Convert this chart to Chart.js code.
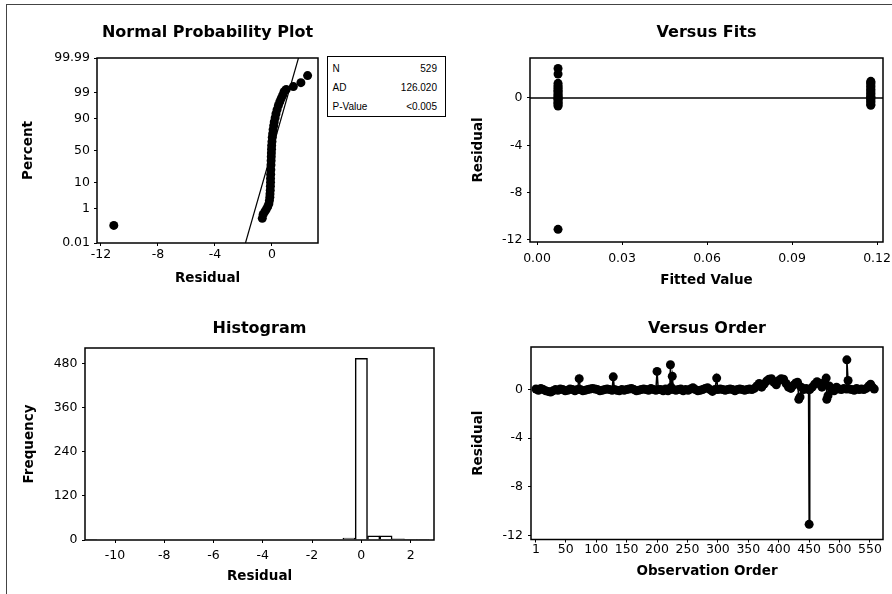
<!DOCTYPE html>
<html>
<head>
<meta charset="utf-8">
<title>Residual Plots</title>
<script src="https://cdn.jsdelivr.net/npm/chart.js@4.4.1/dist/chart.umd.min.js"></script>
<style>
  body { margin: 0; background: #fff; }
  #page { position: relative; width: 892px; height: 594px; overflow: hidden; font-family: "DejaVu Sans", sans-serif; }
  #frame { position: absolute; left: 6px; top: 4px; right: -2px; bottom: -2px; border-top: 1px solid #444; border-left: 1px solid #444; }
  .panel { position: absolute; width: 446px; height: 297px; }
  #stats { position: absolute; left: 327px; top: 56px; width: 119px; box-sizing: border-box; border: 1.5px solid #000;
           padding: 2px 8px 0 4.5px; font: 10px "Liberation Sans", sans-serif; color: #000; background: #fff; }
  #stats div { display: flex; justify-content: space-between; height: 19px; line-height: 19px; }
</style>
</head>
<body>
<div id="page">
  <div id="frame"></div>
  <div class="panel" style="left:0;top:0"><canvas id="prob" width="446" height="297"></canvas></div>
  <div class="panel" style="left:446px;top:0"><canvas id="fits" width="446" height="297"></canvas></div>
  <div class="panel" style="left:0;top:297px"><canvas id="hist" width="446" height="297"></canvas></div>
  <div class="panel" style="left:446px;top:297px"><canvas id="order" width="446" height="297"></canvas></div>
  <div id="stats"></div>
</div>
<script>
// normal probability plot: sorted residuals and their plotting percents
const npResid = [-11.1, -0.68, -0.62, -0.5, -0.4, -0.3, -0.22, -0.18, -0.15, -0.14,
  -0.12, -0.11, -0.1, -0.1, -0.09, -0.08, -0.07, -0.06, -0.05, -0.04,
  -0.03, -0.02, 0, 0.02, 0.05, 0.08, 0.12, 0.16, 0.22, 0.28,
  0.36, 0.45, 0.55, 0.65, 0.75, 0.85, 1.0, 1.5, 2.03, 2.5];
const npPct = [0.13, 0.32, 0.51, 0.7, 0.9, 1.2, 1.6, 2.2, 3, 4,
  5.5, 7.5, 10, 13, 17, 22, 28, 34, 40, 46,
  52, 58, 64, 70, 75, 80, 84, 87.5, 90.5, 93,
  95, 96.5, 97.5, 98.2, 98.7, 99.11, 99.3, 99.49, 99.68, 99.87];
const fitLineResid = [-1.86, 1.86];
const fitLinePct = [0.01, 99.99];
const pctTicks = [0.01, 1, 10, 50, 90, 99, 99.99];
const pctTickLabels = ["0.01", "1", "10", "50", "90", "99", "99.99"];
const statLabels = ["N", "AD", "P-Value"];
const statValues = ["529", "126.020", "<0.005"];

// versus fits
const fitsLow = 0.0074;
const fitsHigh = 0.1178;
const fitsLowResid = [-11.1, -0.68, -0.6, -0.45, -0.38, -0.25, -0.12, -0.05, 0, 0.08,
  0.18, 0.3, 0.42, 0.55, 0.66, 0.8, 0.92, 1.05, 1.24, 2.03, 2.5];
const fitsHighResid = [-0.62, -0.52, -0.4, -0.3, -0.18, -0.08, 0, 0.06, 0.15, 0.27,
  0.38, 0.5, 0.61, 0.73, 0.86, 0.97, 1.1, 1.22, 1.33, 1.41];
const fitsTicks = [0, 0.03, 0.06, 0.09, 0.12];
const fitsTickLabels = ["0.00", "0.03", "0.06", "0.09", "0.12"];
const residTicks = [-12, -8, -4, 0];

// histogram of residuals (bin centres, width 0.5)
const histBins = [-11, -0.5, 0, 0.5, 1, 1.5, 2, 2.5];
const histCounts = [1, 5, 494, 11, 11, 3, 2, 2];
const histXTicks = [-10, -8, -6, -4, -2, 0, 2];
const histYTicks = [0, 120, 240, 360, 480];

// versus order
const orderObs = [1, 5, 9, 13, 17, 21, 25, 29, 33, 37, 41, 45, 49, 53, 57, 61, 65, 69, 72, 74,
  78, 82, 86, 90, 94, 98, 102, 106, 110, 114, 118, 122, 126, 128, 130, 134, 138, 142, 146, 150,
  154, 158, 162, 166, 170, 174, 178, 182, 186, 190, 194, 198, 200, 202, 206, 210, 214, 218, 221, 222,
  223, 225, 227, 231, 235, 239, 243, 247, 251, 255, 259, 263, 267, 271, 275, 279, 283, 287, 291, 295,
  298, 300, 304, 308, 312, 316, 320, 324, 328, 332, 336, 340, 344, 348, 352, 356, 360, 364, 368, 372,
  376, 380, 384, 388, 392, 396, 400, 404, 408, 412, 416, 420, 424, 428, 431, 433, 435, 437, 441, 445,
  449, 450, 451, 455, 459, 463, 467, 471, 475, 478, 479, 481, 483, 487, 491, 495, 499, 503, 507, 511,
  512, 514, 516, 520, 524, 528, 532, 536, 540, 544, 548, 551, 554, 557];
const orderRes = [0.05, -0.05, 0.1, 0, -0.1, -0.15, -0.2, -0.1, 0, -0.05, 0.05, 0, -0.1, -0.05, 0.05, 0, -0.1, 0, 0.9, 0,
  -0.1, -0.05, 0, 0.05, 0.1, 0.05, 0, -0.1, -0.05, 0, 0.05, 0, -0.05, 1.05, 0, -0.05, -0.1, 0, -0.05, 0,
  0.05, 0.1, 0, -0.1, -0.05, 0, 0.05, 0, -0.05, 0.1, 0, -0.05, 1.5, 0, 0, -0.1, 0.05, -0.1, 0, 2.05,
  0.2, 1.1, 0, -0.05, 0, 0.05, -0.1, 0, -0.05, 0.05, 0.15, 0, -0.1, -0.05, 0, 0.1, 0.15, 0, -0.15, 0,
  0.95, 0, 0.05, 0, -0.05, 0, 0.05, 0, -0.1, 0, 0.05, 0, -0.05, 0, 0.05, 0, 0.1, 0.3, 0.5, 0.2,
  0.45, 0.7, 0.85, 0.9, 0.6, 0.4, 0.75, 0.9, 0.85, 0.5, 0.2, 0.1, 0.35, 0.55, 0.6, -0.8, -0.6, 0.2, 0, 0.1,
  0, -11.1, 0, 0.2, 0.45, 0.65, 0.5, 0.2, 0.6, 0.95, -0.8, -0.5, 0.3, 0, -0.1, 0.2, 0.05, 0, 0.1, 0.05,
  2.45, 0.75, 0.05, 0, -0.05, 0.1, 0, 0.05, 0, 0.1, 0.3, 0.45, 0.2, 0.05];
const orderTicks = [1, 50, 100, 150, 200, 250, 300, 350, 400, 450, 500, 550];

// inverse normal CDF (Acklam) for the probability axis
const probit = (p) => {
  const a = [-39.69683028665376, 220.9460984245205, -275.9285104469687, 138.357751867269, -30.66479806614716, 2.506628277459239];
  const b = [-54.47609879822406, 161.5858368580409, -155.6989798598866, 66.80131188771972, -13.28068155288572];
  const c = [-0.007784894002430293, -0.3223964580411365, -2.400758277161838, -2.549732539343734, 4.374664141464968, 2.938163982698783];
  const d = [0.007784695709041462, 0.3224671290700398, 2.445134137142996, 3.754408661907416];
  const tail = (q) => (((((c[0] * q + c[1]) * q + c[2]) * q + c[3]) * q + c[4]) * q + c[5]) /
    ((((d[0] * q + d[1]) * q + d[2]) * q + d[3]) * q + 1);
  if (p < 0.02425) return tail(Math.sqrt(-2 * Math.log(p)));
  if (p > 1 - 0.02425) return -tail(Math.sqrt(-2 * Math.log(1 - p)));
  const q = p - 0.5, r = q * q;
  return (((((a[0] * r + a[1]) * r + a[2]) * r + a[3]) * r + a[4]) * r + a[5]) * q /
    (((((b[0] * r + b[1]) * r + b[2]) * r + b[3]) * r + b[4]) * r + 1);
};

Chart.defaults.font.family = "'DejaVu Sans', sans-serif";
Chart.defaults.color = "#000";

// box round the data area, plus optional reference line at zero
const boxPlugin = {
  id: "box",
  beforeDatasetsDraw(chart, args, opts) {
    if (!opts.zeroLine) return;
    const { ctx, chartArea: a, scales } = chart;
    const y = scales.y.getPixelForValue(0);
    ctx.save();
    ctx.strokeStyle = "#000";
    ctx.lineWidth = 1.5;
    ctx.beginPath();
    ctx.moveTo(a.left, y);
    ctx.lineTo(a.right, y);
    ctx.stroke();
    ctx.restore();
  },
  afterDatasetsDraw(chart) {
    const { ctx, chartArea: a } = chart;
    ctx.save();
    ctx.strokeStyle = "#000";
    ctx.lineWidth = 1.5;
    ctx.strokeRect(a.left, a.top, a.right - a.left, a.bottom - a.top);
    ctx.restore();
  },
};

const axis = ({ min, max, ticks, labels, title, titlePad, size, labelPad }) => ({
  type: "linear",
  min,
  max,
  offset: false,
  afterBuildTicks: (s) => {
    s.ticks = ticks.map((v) => ({ value: v }));
  },
  afterFit: (s) => {
    if (s.isHorizontal()) s.height = size;
    else s.width = size;
    // labels may hang past the plot edges; keep the plot box where it is
    s.paddingLeft = s.paddingRight = s.paddingTop = s.paddingBottom = 0;
  },
  ticks: {
    autoSkip: false,
    maxRotation: 0,
    padding: labelPad,
    font: { size: 12.5 },
    callback: (v, i) => (labels ? labels[i] : String(v)),
  },
  grid: { offset: false, drawOnChartArea: false, drawTicks: true, tickLength: 3, color: "#000", lineWidth: 1 },
  border: { display: false },
  title: { display: true, text: title, font: { size: 13.5, weight: "bold" }, padding: titlePad },
});

const panel = (id, type, title, titlePad, padRight, xAxis, yAxis, datasets, zeroLine) =>
  new Chart(document.getElementById(id), {
    type,
    data: { datasets },
    plugins: [boxPlugin],
    options: {
      responsive: false,
      animation: false,
      layout: { padding: { left: 0, right: padRight, top: 0, bottom: 0 } },
      scales: { x: xAxis, y: yAxis },
      plugins: {
        legend: { display: false },
        tooltip: { enabled: false },
        box: { zeroLine },
        title: {
          display: true,
          text: title,
          fullSize: false,
          font: { size: 16, weight: "bold" },
          padding: titlePad,
        },
      },
    },
  });

const dots = { pointRadius: 4.5, pointBorderWidth: 0, pointBackgroundColor: "#000", showLine: false };

panel("prob", "scatter", "Normal Probability Plot", { top: 22.9, bottom: 15.9 }, 128,
  axis({ min: -12.28, max: 3.23, ticks: [-12, -8, -4, 0], title: "Residual", titlePad: { top: 0, bottom: 10.6 }, size: 54, labelPad: 1 }),
  axis({ min: probit(0.0001), max: probit(0.9999), ticks: pctTicks.map((p) => probit(p / 100)), labels: pctTickLabels,
    title: "Percent", titlePad: { top: 20.6, bottom: 0 }, size: 97, labelPad: 4 }),
  [
    { data: fitLineResid.map((r, i) => ({ x: r, y: probit(fitLinePct[i] / 100) })), showLine: true,
      borderColor: "#000", borderWidth: 1.2, pointRadius: 0 },
    { data: npResid.map((r, i) => ({ x: r, y: probit(npPct[i] / 100) })), ...dots },
  ]);

panel("fits", "scatter", "Versus Fits", { top: 22.9, bottom: 15.9 }, 9,
  axis({ min: -0.0025, max: 0.1221, ticks: fitsTicks, labels: fitsTickLabels, title: "Fitted Value", titlePad: { top: 0, bottom: 8.9 }, size: 55, labelPad: 6 }),
  axis({ min: -12.17, max: 3.38, ticks: residTicks, title: "Residual", titlePad: { top: 24.2, bottom: 0 }, size: 84, labelPad: 4.5 }),
  [
    { data: fitsLowResid.map((r) => ({ x: fitsLow, y: r })), ...dots },
    { data: fitsHighResid.map((r) => ({ x: fitsHigh, y: r })), ...dots },
  ], true);

panel("hist", "bar", "Histogram", { top: 21.9, bottom: 9.9 }, 12,
  axis({ min: -11.22, max: 2.95, ticks: histXTicks, title: "Residual", titlePad: { top: 0, bottom: 9.2 }, size: 54, labelPad: 5.5 }),
  axis({ min: 0, max: 522, ticks: histYTicks, title: "Frequency", titlePad: { top: 20.9, bottom: 0 }, size: 85, labelPad: 4.5 }),
  [
    { data: histBins.map((b, i) => ({ x: b, y: histCounts[i] })), backgroundColor: "#fff", borderColor: "#000",
      borderWidth: 1.5, barPercentage: 1, categoryPercentage: 1 },
  ]);

panel("order", "scatter", "Versus Order", { top: 22.4, bottom: 8.4 }, 9,
  axis({ min: -7.2, max: 571.4, ticks: orderTicks, title: "Observation Order", titlePad: { top: 0, bottom: 14.9 }, size: 54.5, labelPad: 0 }),
  axis({ min: -12.35, max: 3.51, ticks: residTicks, title: "Residual", titlePad: { top: 24.2, bottom: 0 }, size: 85, labelPad: 5 }),
  [
    { data: orderObs.map((o, i) => ({ x: o, y: orderRes[i] })), ...dots, showLine: true,
      borderColor: "#000", borderWidth: 1.5 },
  ]);

const stats = document.getElementById("stats");
statLabels.forEach((label, i) => {
  const row = document.createElement("div");
  const name = document.createElement("span");
  const value = document.createElement("span");
  name.textContent = label;
  value.textContent = statValues[i];
  row.append(name, value);
  stats.append(row);
});
</script>
</body>
</html>
